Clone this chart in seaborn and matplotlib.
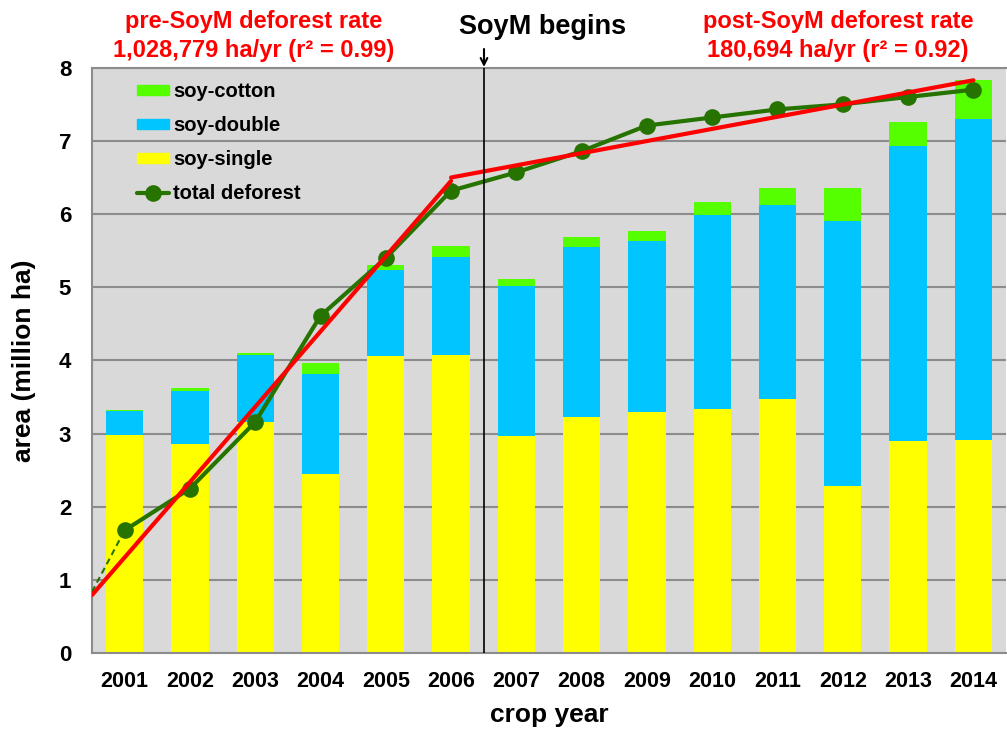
import numpy as np
import pandas as pd
import matplotlib.pyplot as plt
import seaborn as sns
from matplotlib.patches import Patch
from matplotlib.lines import Line2D

# --- data (million ha) ---
years = [str(y) for y in range(2001, 2015)]
soy_single = [2.98, 2.86, 3.16, 2.45, 4.06, 4.07, 2.97, 3.23, 3.30, 3.34, 3.47, 2.28, 2.90, 2.92]
soy_double = [0.33, 0.72, 0.91, 1.37, 1.17, 1.35, 2.05, 2.32, 2.33, 2.65, 2.65, 3.63, 4.03, 4.38]
soy_cotton = [0.02, 0.04, 0.03, 0.15, 0.08, 0.14, 0.09, 0.14, 0.14, 0.17, 0.24, 0.45, 0.33, 0.53]
total_deforest = [1.68, 2.25, 3.16, 4.61, 5.40, 6.32, 6.57, 6.86, 7.21, 7.32, 7.43, 7.50, 7.60, 7.70]
deforest_2000_5 = 0.84  # dashed extrapolation back to the axis

# regression lines (rate in million ha per year)
pre_rate, pre_at_2001 = 1.028779, 1.31
post_rate, post_at_2006 = 0.166, 6.50

# --- style ---
sns.set_style("white")
plt.rcParams['font.family'] = ['Liberation Sans', 'DejaVu Sans']
plt.rcParams['font.weight'] = 'bold'
plt.rcParams['text.color'] = 'black'
plt.rcParams['axes.labelcolor'] = 'black'

C_SINGLE = '#FFFF00'
C_DOUBLE = '#00C5FF'
C_COTTON = '#55FF00'
C_LINE = '#267300'
C_GRID = '#8C8C8C'

df = pd.DataFrame({'year': years, 'single': soy_single,
                   'double': soy_double, 'cotton': soy_cotton})
df['top_double'] = df['single'] + df['double']
df['top_cotton'] = df['top_double'] + df['cotton']

W, H = 1007, 729
fig = plt.figure(figsize=(W / 100, H / 100), dpi=100)
ax = fig.add_axes([92 / W, 1 - 653.3 / H, 914 / W, 585.6 / H])
ax.set_facecolor('#D9D9D9')

# stacked bars by overdrawing cumulative heights
bw = 0.57
for col, c in [('top_cotton', C_COTTON), ('top_double', C_DOUBLE), ('single', C_SINGLE)]:
    sns.barplot(data=df, x='year', y=col, color=c, width=bw, saturation=1,
                linewidth=0, edgecolor='none', ax=ax, zorder=2)

pos = np.arange(len(years))

# dashed extrapolation then total deforest line
ax.plot([pos[0] - 0.5, pos[0]], [deforest_2000_5, total_deforest[0]],
        ls=(0, (3, 2)), color=C_LINE, lw=1.5, zorder=4)
sns.lineplot(x=pos, y=total_deforest, color=C_LINE, lw=3, marker='o',
             markersize=12, markeredgewidth=0, ax=ax, zorder=5)

# regression lines
px = np.array([pos[0] - 0.5, pos[5]])
ax.plot(px, pre_at_2001 + pre_rate * (px - pos[0]), color='red', lw=3, zorder=6)
qx = np.array([pos[5], pos[13]])
ax.plot(qx, post_at_2006 + post_rate * (qx - pos[5]), color='red', lw=3, zorder=6)

ax.axvline(5.5, color='black', lw=1.2, zorder=7)

# axes
ax.set_xlim(-0.5, 13.5)
ax.set_ylim(0, 8)
ax.set_yticks(range(0, 9))
ax.yaxis.grid(True, color=C_GRID, lw=1.5)
ax.set_axisbelow(True)
for s in ['left', 'bottom', 'top']:
    ax.spines[s].set_color(C_GRID)
    ax.spines[s].set_linewidth(1.5)
ax.spines['right'].set_visible(False)

ax.set_xticks(np.arange(-0.5, 14, 1), minor=True)
ax.tick_params(axis='x', which='major', length=0, pad=13, labelsize=15.5,
               labelcolor='black')
ax.tick_params(axis='x', which='minor', length=6, width=1.5, color=C_GRID,
               direction='out')
ax.tick_params(axis='y', length=6, width=1.5, color=C_GRID, direction='out',
               pad=9, labelsize=16, labelcolor='black')
for lab in ax.get_xticklabels() + ax.get_yticklabels():
    lab.set_fontweight('bold')

ax.set_xlabel('crop year', fontsize=19, fontweight='bold', labelpad=8)
ax.set_ylabel('area (million ha)', fontsize=19, fontweight='bold', labelpad=16)

# legend
handles = [Patch(color=C_COTTON, label='soy-cotton'),
           Patch(color=C_DOUBLE, label='soy-double'),
           Patch(color=C_SINGLE, label='soy-single'),
           Line2D([], [], color=C_LINE, lw=3, marker='o', markersize=12,
                  markeredgewidth=0, label='total deforest')]
leg = ax.legend(handles=handles, loc='upper left', bbox_to_anchor=(0.049, 0.975),
                frameon=False, handlelength=1.6, handleheight=0.4,
                handletextpad=0.2, labelspacing=0.74, borderpad=0, borderaxespad=0,
                prop={'weight': 'bold', 'size': 14.5})
for t in leg.get_texts():
    t.set_color('black')

# annotations
fig.text(254 / W, 1 - 36 / H, 'pre-SoyM deforest rate\n1,028,779 ha/yr (r² = 0.99)',
         ha='center', va='center', color='red', fontsize=17, fontweight='bold',
         linespacing=1.3)
fig.text(838 / W, 1 - 36 / H, 'post-SoyM deforest rate\n180,694 ha/yr (r² = 0.92)',
         ha='center', va='center', color='red', fontsize=17, fontweight='bold',
         linespacing=1.3)
fig.text(543 / W, 1 - 27 / H, 'SoyM begins', ha='center', va='center',
         color='black', fontsize=19.5, fontweight='bold')
ax.annotate('', xy=(484, H - 67), xycoords='figure pixels',
            xytext=(484, H - 49), textcoords='figure pixels',
            arrowprops=dict(arrowstyle='->', lw=1.5, color='black',
                            mutation_scale=12, shrinkA=0, shrinkB=0))

fig.savefig('out.png', dpi=100)
